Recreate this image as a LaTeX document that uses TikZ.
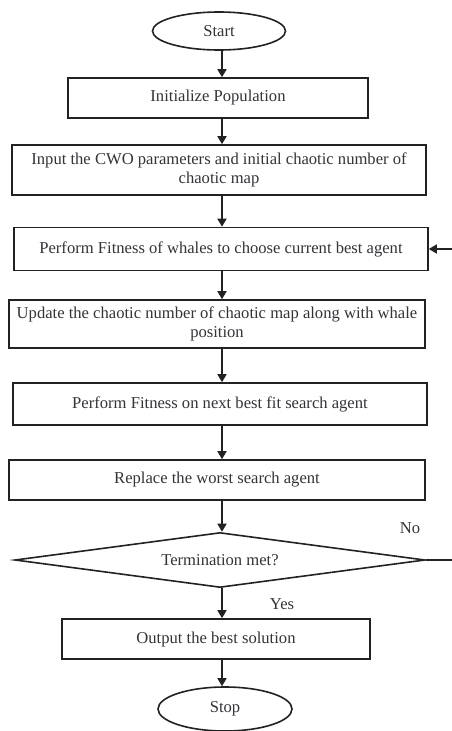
\documentclass[tikz,border=0pt]{standalone}
\usepackage{fontspec}
\setmainfont{Liberation Serif}
\usetikzlibrary{shapes.geometric,arrows.meta}
\definecolor{txt}{HTML}{333338}
\definecolor{ln}{HTML}{222222}
\begin{document}
\begin{tikzpicture}[x=1pt,y=-1pt,
  every node/.style={font=\fontsize{16.6}{19}\selectfont, text=txt},
  procbox/.style={draw=ln, line width=1.6pt, rectangle, align=center, inner sep=2pt},
  termnode/.style={draw=ln, line width=1.6pt, ellipse, inner sep=0pt},
  decnode/.style={draw=ln, line width=1.6pt, diamond, inner sep=0pt},
  flow/.style={draw=ln, line width=1.6pt, -{Triangle[length=8pt,width=9pt]}},
  lbl/.style={font=\fontsize{16.6}{19}\selectfont}
]
\useasboundingbox (0,0) rectangle (452,731);
\clip (0,0) rectangle (452,731);
\coordinate (ax) at (222,0);
\node[termnode, minimum width=133pt, minimum height=38pt] (start) at (219,31) {Start};
\node[procbox, minimum width=300pt, minimum height=40pt] (b1) at (218,98) {Initialize Population};
\node[procbox, minimum width=414pt, minimum height=50pt] (b2) at (219,170) {Input the CWO parameters and initial chaotic number of\\chaotic map};
\node[procbox, minimum width=414pt, minimum height=43pt] (b3) at (221,249) {Perform Fitness of whales to choose current best agent};
\node[procbox, minimum width=416pt, minimum height=48pt] (b4) at (217,324) {Update the chaotic number of chaotic map along with whale\\position};
\node[procbox, minimum width=414pt, minimum height=42pt] (b5) at (220,404) {Perform Fitness on next best fit search agent};
\node[procbox, minimum width=416pt, minimum height=40pt] (b6) at (217,480) {Replace the worst search agent};
\node[decnode, minimum width=410pt, minimum height=55pt, aspect=7.45] (dec) at (220,560) {Termination met?};
\node[procbox, minimum width=308pt, minimum height=40pt] (b7) at (216,639) {Output the best solution};
\node[termnode, minimum width=134pt, minimum height=44pt] (stop) at (225,709) {Stop};
\node[lbl] (no) at (410,528) {No};
\node[lbl] (yes) at (282,604) {Yes};
\coordinate (loopr) at (470,0);
\draw[flow] (start.south -| ax) -- (b1.north -| ax);
\draw[flow] (b1.south -| ax) -- (b2.north -| ax);
\draw[flow] (b2.south -| ax) -- (b3.north -| ax);
\draw[flow] (b3.south -| ax) -- (b4.north -| ax);
\draw[flow] (b4.south -| ax) -- (b5.north -| ax);
\draw[flow] (b5.south -| ax) -- (b6.north -| ax);
\draw[flow] (b6.south -| ax) -- (dec.north -| ax);
\draw[flow] (dec.south -| ax) -- (b7.north -| ax);
\draw[flow] (b7.south -| ax) -- (stop.north -| ax);
\draw[flow] (dec.east) -- (dec.east -| loopr) -- (b3.east -| loopr) -- (b3.east);
\end{tikzpicture}
\end{document}
